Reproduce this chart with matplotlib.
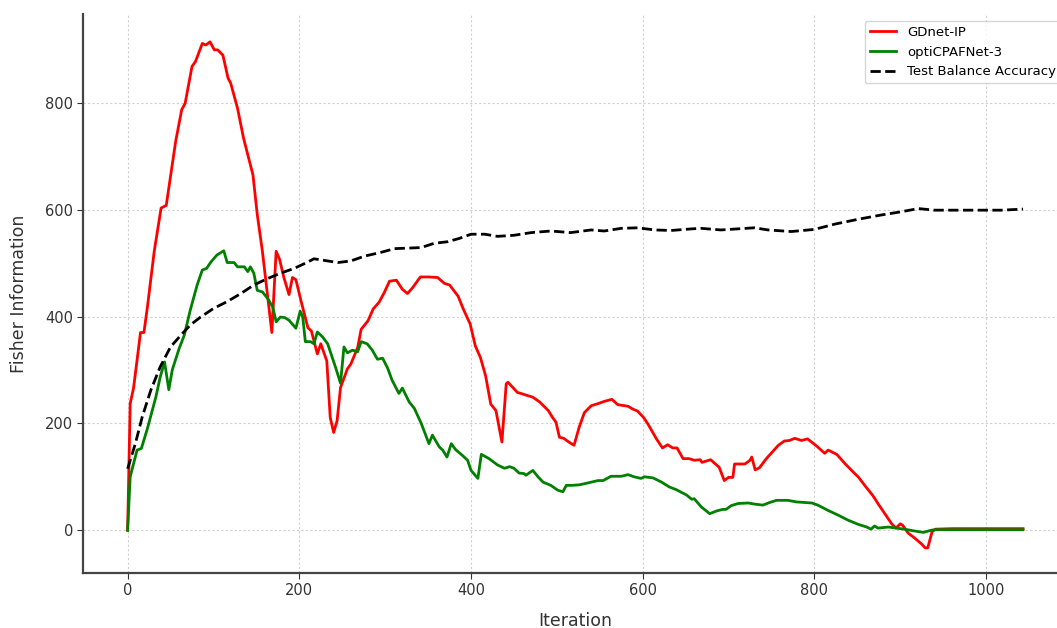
import numpy as np
import matplotlib
matplotlib.use("Agg")
import matplotlib.pyplot as plt

# GDnet-IP
red_x = [0, 3, 7, 15, 19, 23, 31, 39, 45, 56, 63, 67, 75, 79, 87, 91, 96, 101, 105, 111,
         117, 120, 128, 135, 139, 146, 151, 157, 168, 173, 177, 182, 188, 192, 196, 202,
         210, 214, 221, 225, 232, 236, 240, 244, 248, 256, 260, 268, 272, 280, 286, 293,
         299, 305, 313, 320, 326, 332, 341, 351, 361, 369, 375, 385, 391, 399, 405, 411,
         417, 423, 429, 436, 441, 443, 454, 462, 472, 480, 490, 495, 499, 503, 508, 514,
         520, 526, 532, 540, 548, 555, 564, 571, 583, 588, 594, 601, 606, 616, 623, 629,
         635, 640, 647, 654, 660, 667, 669, 679, 689, 695, 700, 705, 707, 719, 725, 727,
         731, 736, 744, 758, 765, 771, 777, 785, 792, 803, 812, 816, 826, 836, 847, 851,
         860, 868, 874, 882, 890, 895, 900, 903, 909, 917, 925, 929, 932, 937, 941, 960,
         1000, 1043]
red_y = [0, 237, 267, 370, 370, 417, 522, 603, 608, 728, 787, 799, 868, 877, 911, 908, 914,
         899, 899, 889, 846, 837, 790, 734, 709, 665, 591, 522, 370, 522, 507, 473, 441,
         473, 469, 429, 379, 373, 330, 349, 317, 211, 183, 205, 267, 302, 311, 342, 376,
         392, 414, 427, 445, 466, 468, 451, 443, 454, 474, 474, 473, 462, 459, 438, 414,
         386, 345, 323, 289, 236, 224, 165, 274, 277, 258, 254, 249, 240, 224, 211, 202,
         174, 172, 165, 159, 193, 220, 233, 237, 241, 245, 235, 232, 227, 223, 211, 199,
         171, 154, 160, 154, 154, 134, 134, 131, 132, 127, 132, 118, 93, 99, 99, 124, 124,
         131, 137, 113, 117, 134, 159, 167, 168, 172, 168, 171, 157, 144, 150, 142, 124,
         106, 100, 81, 65, 50, 31, 12, 4, 12, 9, -5, -15, -26, -33, -33, -3, 2, 3, 3, 3]

# optiCPAFNet-3
green_x = [0, 3, 11, 16, 23, 33, 38, 43, 48, 52, 60, 66, 73, 81, 87, 92, 97, 104, 112,
           116, 124, 128, 132, 136, 140, 143, 147, 151, 157, 163, 169, 173, 178, 183, 188,
           196, 201, 204, 207, 213, 217, 221, 227, 233, 242, 248, 252, 256, 262, 268, 272,
           279, 285, 291, 297, 303, 308, 316, 320, 328, 334, 342, 351, 355, 363, 367, 372,
           377, 382, 390, 396, 400, 408, 412, 421, 431, 439, 445, 450, 456, 462, 464, 472,
           478, 484, 493, 501, 507, 511, 518, 526, 532, 540, 548, 554, 563, 575, 583, 590,
           598, 602, 612, 622, 631, 639, 651, 657, 660, 668, 678, 686, 693, 697, 703, 711,
           723, 730, 740, 748, 756, 769, 779, 789, 797, 804, 816, 828, 839, 851, 861, 866,
           870, 874, 886, 896, 905, 915, 927, 936, 940, 1000, 1043]
green_y = [0, 100, 150, 153, 190, 250, 287, 315, 263, 300, 340, 365, 412, 459, 487, 490,
           502, 515, 523, 501, 501, 493, 493, 493, 484, 493, 481, 449, 446, 434, 418, 390,
           399, 398, 393, 378, 410, 399, 353, 353, 349, 371, 362, 349, 306, 275, 343, 332,
           337, 334, 353, 349, 337, 320, 322, 303, 281, 256, 266, 240, 228, 200, 162, 178,
           156, 150, 137, 162, 151, 140, 131, 112, 97, 142, 134, 122, 116, 119, 116, 107,
           106, 103, 112, 100, 90, 84, 75, 72, 84, 84, 85, 87, 90, 93, 93, 101, 101, 104,
           100, 97, 100, 98, 90, 81, 76, 66, 58, 59, 44, 31, 36, 39, 39, 46, 50, 51, 49, 47,
           52, 56, 56, 53, 52, 51, 47, 37, 28, 19, 11, 6, 2, 8, 4, 6, 4, 2, -1, -4, 0, 1,
           1, 1]

# Test Balance Accuracy
acc_x = [0, 9, 17, 27, 38, 50, 62, 73, 85, 100, 116, 132, 147, 163, 178, 194, 210, 217,
         233, 245, 260, 276, 295, 311, 342, 357, 373, 386, 400, 416, 431, 450, 470, 493,
         516, 540, 555, 575, 594, 614, 633, 657, 668, 691, 730, 746, 773, 800, 824, 851,
         878, 901, 921, 940, 979, 1018, 1043]
acc_y = [115, 162, 212, 262, 306, 343, 365, 384, 399, 415, 428, 443, 459, 471, 481, 490,
         502, 508, 504, 501, 504, 513, 520, 527, 529, 537, 540, 546, 554, 554, 550, 552,
         557, 560, 557, 562, 560, 565, 566, 562, 561, 564, 565, 562, 566, 562, 559, 563,
         573, 582, 590, 596, 602, 599, 599, 599, 601]

fig = plt.figure(figsize=(10.57, 6.28), dpi=100)
ax = fig.add_axes([0.0785, 0.0876, 0.9316, 0.890])

ax.plot(red_x, red_y, color="#ff0000", lw=2, label="GDnet-IP")
ax.plot(green_x, green_y, color="#008000", lw=2, label="optiCPAFNet-3")
ax.plot(acc_x, acc_y, color="black", lw=2, ls="--", label="Test Balance Accuracy")

ax.set_xlim(-52, 1095)
ax.set_ylim(-80, 966)
ax.set_xticks([0, 200, 400, 600, 800, 1000])
ax.set_yticks([0, 200, 400, 600, 800])
ax.grid(True, ls=(0, (2, 2)), color="#d0d0d0", lw=0.8)

for side in ["top", "right"]:
    ax.spines[side].set_visible(False)
for side in ["left", "bottom"]:
    ax.spines[side].set_color("#444444")
    ax.spines[side].set_linewidth(1.6)

ax.tick_params(labelsize=10.5, colors="#333333", length=4, pad=3)
ax.set_xlabel("Iteration", fontsize=12.5, color="#333333", labelpad=10)
ax.set_ylabel("Fisher Information", fontsize=12.5, color="#333333", labelpad=12)

leg = ax.legend(loc="upper right", fontsize=9.5, frameon=True, fancybox=True)
leg.get_frame().set_edgecolor("#cccccc")

fig.savefig("out.png", dpi=100)
